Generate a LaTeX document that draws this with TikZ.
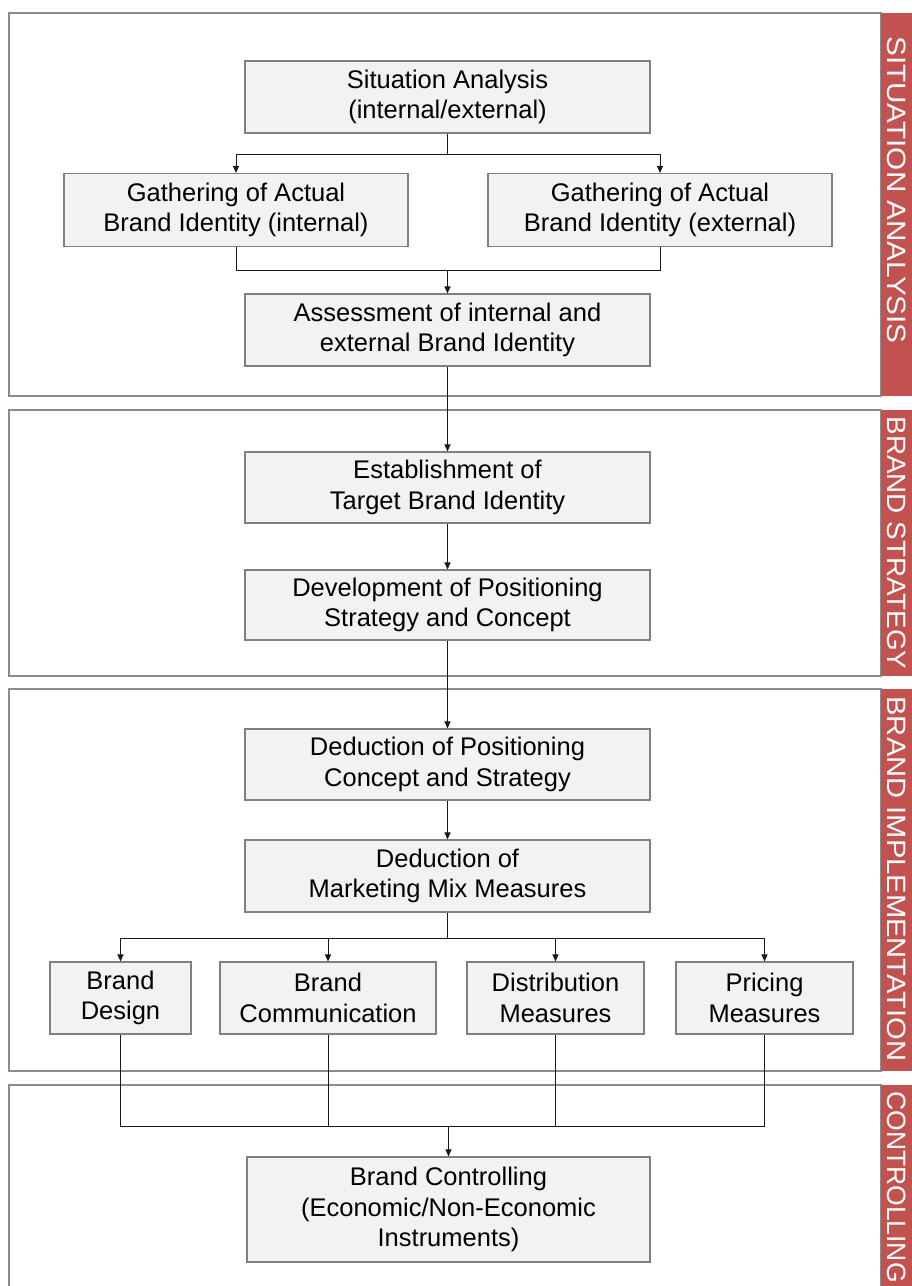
\documentclass[tikz,border=0pt]{standalone}
\usepackage{fontspec}
\setmainfont{Liberation Sans}
\usetikzlibrary{arrows.meta}
\definecolor{bandred}{RGB}{194,82,80}
\definecolor{boxfill}{RGB}{242,242,242}
\definecolor{boxline}{RGB}{128,128,128}
\definecolor{panelline}{RGB}{140,140,140}

\begin{document}
\begin{tikzpicture}[x=1pt,y=-1pt,
  panel/.style={draw=panelline, line width=1.2pt, fill=white},
  band/.style={fill=bandred},
  bandlabel/.style={text=white, rotate=-90, inner sep=0pt,
    font=\fontsize{26.5}{27}\selectfont},
  box/.style={draw=boxline, fill=boxfill, line width=1.1pt, align=center,
    inner sep=0pt, font=\fontsize{25.5}{30.5}\selectfont},
  link/.style={line width=1pt, draw=black!90},
  arr/.style={link, -{Triangle[length=7pt,width=6pt]}}]

\useasboundingbox[fill=white] (0,0) rectangle (912,1286);

% phase panels with their red side bands
\draw[panel] (9,13) rectangle (881,396);
\fill[band] (881,13) rectangle (912,396);
\draw[panel] (9,410) rectangle (881,676);
\fill[band] (881,410) rectangle (912,676);
\draw[panel] (9,689) rectangle (881,1071);
\fill[band] (881,689) rectangle (912,1071);
\draw[panel] (9,1300) -- (9,1085) -- (881,1085) -- (881,1300);
\fill[band] (881,1085) rectangle (912,1300);

\node[bandlabel] (lsa) at (896.5,190) {\scalebox{1.12}[1]{SITUATION ANALYSIS}};
\node[bandlabel] (lbs) at (896.5,543) {\scalebox{1.05}[1]{BRAND STRATEGY}};
\node[bandlabel] (lbi) at (896.5,879) {\scalebox{1.1}[1]{BRAND IMPLEMENTATION}};
\node[bandlabel] (lco) at (896.5,1187) {CONTROLLING};

% process steps
\node[box, minimum width=405pt, minimum height=72pt] (sit) at (447.5,97)
  {Situation Analysis\\(internal/external)};
\node[box, minimum width=344pt, minimum height=73pt] (gint) at (236,210)
  {Gathering of Actual\\Brand Identity (internal)};
\node[box, minimum width=344pt, minimum height=73pt] (gext) at (660,210)
  {Gathering of Actual\\Brand Identity (external)};
\node[box, minimum width=405pt, minimum height=72pt] (assess) at (447.5,330)
  {Assessment of internal and\\external Brand Identity};
\node[box, minimum width=405pt, minimum height=71pt] (estab) at (447.5,487.5)
  {Establishment of\\Target Brand Identity};
\node[box, minimum width=405pt, minimum height=70pt] (devel) at (447.5,605)
  {Development of Positioning\\Strategy and Concept};
\node[box, minimum width=405pt, minimum height=71pt] (dedpos) at (447.5,764.5)
  {Deduction of Positioning\\Concept and Strategy};
\node[box, minimum width=405pt, minimum height=72pt] (dedmm) at (447.5,876)
  {Deduction of\\Marketing Mix Measures};
\node[box, minimum width=141pt, minimum height=72pt] (design) at (120.5,998)
  {Brand\\Design};
\node[box, minimum width=216pt, minimum height=72pt] (comm) at (328,998)
  {Brand\\Communication};
\node[box, minimum width=177pt, minimum height=72pt] (dist) at (555.5,998)
  {Distribution\\Measures};
\node[box, minimum width=177pt, minimum height=72pt] (price) at (764.5,998)
  {Pricing\\Measures};
\node[box, minimum width=403pt, minimum height=105pt] (ctrl) at (448.5,1209.5)
  {Brand Controlling\\(Economic/Non-Economic\\Instruments)};

% branching and joining points
\coordinate (sp1) at (447.5,154);
\coordinate (mg1) at (447.5,270);
\coordinate (sp2) at (447.5,938);
\coordinate (mg2) at (448.5,1126);

% connectors
\draw[link] (sit.south) -- (sp1);
\draw[arr] (sp1) -| (gint.north);
\draw[arr] (sp1) -| (gext.north);
\draw[link] (gint.south) |- (mg1);
\draw[link] (gext.south) |- (mg1);
\draw[arr] (mg1) -- (assess.north);
\draw[arr] (assess.south) -- (estab.north);
\draw[arr] (estab.south) -- (devel.north);
\draw[arr] (devel.south) -- (dedpos.north);
\draw[arr] (dedpos.south) -- (dedmm.north);
\draw[link] (dedmm.south) -- (sp2);
\draw[arr] (sp2) -| (design.north);
\draw[arr] (sp2) -| (comm.north);
\draw[arr] (sp2) -| (dist.north);
\draw[arr] (sp2) -| (price.north);
\draw[link] (design.south) |- (mg2);
\draw[link] (comm.south) |- (mg2);
\draw[link] (dist.south) |- (mg2);
\draw[link] (price.south) |- (mg2);
\draw[arr] (mg2) -- (ctrl.north);
\end{tikzpicture}
\end{document}
